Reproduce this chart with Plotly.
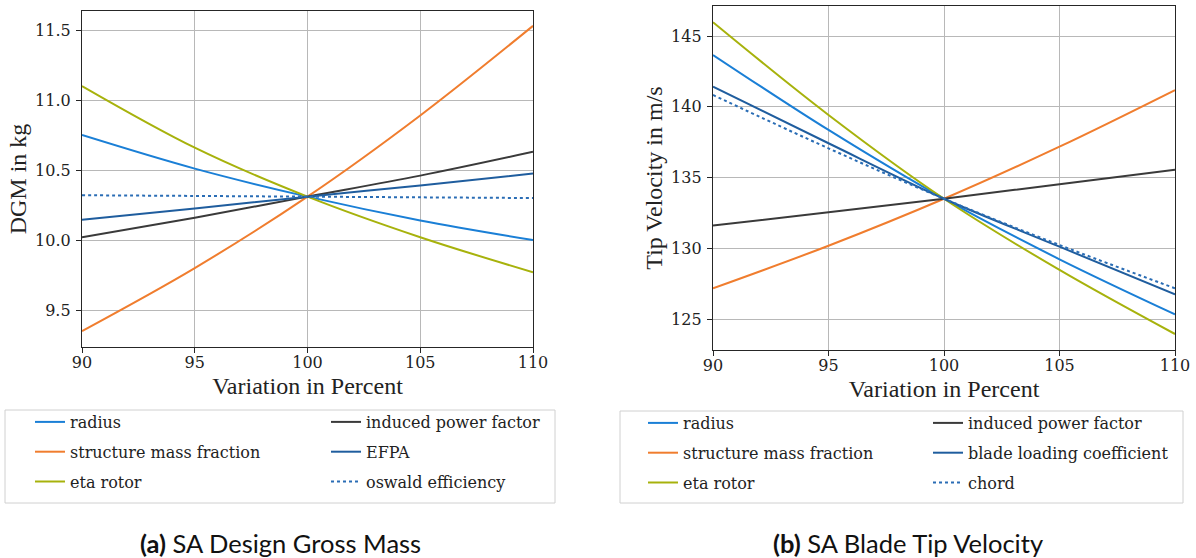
import plotly.graph_objects as go

W, H = 1196, 558

# Variation of each input parameter in percent
variation = [90, 95, 100, 105, 110]

# (a) Design gross mass in kg
dgm_radius = [10.75, 10.51, 10.31, 10.14, 10.00]
dgm_structure = [9.35, 9.80, 10.31, 10.89, 11.53]
dgm_eta = [11.10, 10.66, 10.31, 10.02, 9.77]
dgm_induced = [10.02, 10.16, 10.31, 10.46, 10.63]
dgm_efpa = [10.145, 10.225, 10.31, 10.39, 10.475]
dgm_oswald = [10.32, 10.315, 10.31, 10.305, 10.30]

# (b) Blade tip velocity in m/s
vt_radius = [143.66, 138.36, 133.5, 129.22, 125.33]
vt_structure = [127.17, 130.18, 133.5, 137.18, 141.18]
vt_eta = [145.97, 139.42, 133.5, 128.47, 123.94]
vt_induced = [131.6, 132.54, 133.5, 134.53, 135.55]
vt_blade = [141.42, 137.42, 133.5, 130.11, 126.74]
vt_chord = [140.83, 137.06, 133.5, 130.23, 127.17]

x_ticks = [90, 95, 100, 105, 110]
dgm_ticks = [9.5, 10.0, 10.5, 11.0, 11.5]
vt_ticks = [125, 130, 135, 140, 145]

C_RADIUS = "#1a7fd6"
C_STRUCT = "#f07d2e"
C_ETA = "#a7b20c"
C_INDUCED = "#3a3a3a"
C_DARKBLUE = "#1f5d9e"
C_DOT = "#2a6db5"

TITLE_SERIF = "Liberation Serif"
TEXT_SERIF = "DejaVu Serif"
TEXT_SIZE = 16


def px(x):
    return x / W


def py(y):
    return 1 - y / H


fig = go.Figure()

# Each legend box has two columns, each column is its own legend
left_series = [
    ("radius", dgm_radius, C_RADIUS, "solid", "legend2"),
    ("structure mass fraction", dgm_structure, C_STRUCT, "solid", "legend2"),
    ("eta rotor", dgm_eta, C_ETA, "solid", "legend2"),
    ("induced power factor", dgm_induced, C_INDUCED, "solid", "legend4"),
    ("EFPA", dgm_efpa, C_DARKBLUE, "solid", "legend4"),
    ("oswald efficiency", dgm_oswald, C_DOT, "dot", "legend4"),
]
right_series = [
    ("radius", vt_radius, C_RADIUS, "solid", "legend6"),
    ("structure mass fraction", vt_structure, C_STRUCT, "solid", "legend6"),
    ("eta rotor", vt_eta, C_ETA, "solid", "legend6"),
    ("induced power factor", vt_induced, C_INDUCED, "solid", "legend8"),
    ("blade loading coefficient", vt_blade, C_DARKBLUE, "solid", "legend8"),
    ("chord", vt_chord, C_DOT, "dot", "legend8"),
]

for i, (name, vals, col, dash, leg) in enumerate(left_series):
    fig.add_trace(go.Scatter(
        x=variation, y=vals, name=name, mode="lines",
        line=dict(color=col, width=2, dash=dash, shape="spline"),
        xaxis="x", yaxis="y", legend=leg, legendgroup=f"a{i}",
    ))
for i, (name, vals, col, dash, leg) in enumerate(right_series):
    fig.add_trace(go.Scatter(
        x=variation, y=vals, name=name, mode="lines",
        line=dict(color=col, width=2, dash=dash, shape="spline"),
        xaxis="x2", yaxis="y2", legend=leg, legendgroup=f"b{i}",
    ))


def axis_style(standoff):
    return dict(
        showline=True, linecolor="#262626", linewidth=1.3, mirror=True,
        ticks="outside", ticklen=5, tickcolor="#262626",
        ticklabelstandoff=standoff,
        showgrid=True, gridcolor="#b8b8b8", gridwidth=1,
        zeroline=False,
        tickfont=dict(family=TEXT_SERIF, size=TEXT_SIZE, color="#222"),
    )


def title_font():
    return dict(family=TITLE_SERIF, size=24, color="#222")


def legend_style(x, y):
    return dict(
        x=x, y=y,
        orientation="v", bgcolor="rgba(0,0,0,0)", borderwidth=0,
        font=dict(family=TEXT_SERIF, size=TEXT_SIZE, color="#222"),
        xanchor="left", yanchor="top", tracegroupgap=6,
        itemclick=False, itemdoubleclick=False,
    )


fig.update_layout(
    width=W, height=H,
    margin=dict(l=0, r=0, t=0, b=0, autoexpand=False),
    font=dict(family=TEXT_SERIF, size=TEXT_SIZE, color="#222"),
    paper_bgcolor="white", plot_bgcolor="white",
    xaxis=dict(
        domain=[px(82), px(533)], range=[90, 110], tickvals=x_ticks,
        anchor="y",
        title=dict(text="Variation in Percent", standoff=5, font=title_font()),
        **axis_style(-4),
    ),
    yaxis=dict(
        domain=[py(347), py(11)], range=[9.236, 11.636], tickvals=dgm_ticks,
        tickformat=".1f", anchor="x",
        title=dict(text="DGM in kg", standoff=1, font=title_font()),
        **axis_style(2),
    ),
    xaxis2=dict(
        domain=[px(713), px(1175)], range=[90, 110], tickvals=x_ticks,
        anchor="y2",
        title=dict(text="Variation in Percent", standoff=5, font=title_font()),
        **axis_style(-4),
    ),
    yaxis2=dict(
        domain=[py(350), py(6)], range=[122.81, 147.12], tickvals=vt_ticks,
        anchor="x2",
        title=dict(text="Tip Velocity in m/s", standoff=1, font=title_font()),
        **axis_style(2),
    ),
    legend2=legend_style(px(30), py(405)),
    legend4=legend_style(px(326), py(405)),
    legend6=legend_style(px(643), py(406)),
    legend8=legend_style(px(928), py(406)),
    showlegend=True,
)

# Legend frames
for (x0, y0, x1, y1) in [(5, 410, 555, 503), (620, 411, 1183, 503)]:
    fig.add_shape(type="rect", xref="paper", yref="paper",
                  x0=px(x0), x1=px(x1), y0=py(y1), y1=py(y0),
                  line=dict(color="#d0d0d0", width=1), fillcolor="rgba(0,0,0,0)",
                  layer="below")

# Sub-figure captions
captions = [("<b>(a)</b> SA Design Gross Mass", 280), ("<b>(b)</b> SA Blade Tip Velocity", 908)]
for text, cx in captions:
    fig.add_annotation(text=text, xref="paper", yref="paper",
                       x=px(cx), y=py(543), xanchor="center", yanchor="middle",
                       showarrow=False,
                       font=dict(family="Lato", size=25.5, color="#111"))

fig.write_html("out.html")
